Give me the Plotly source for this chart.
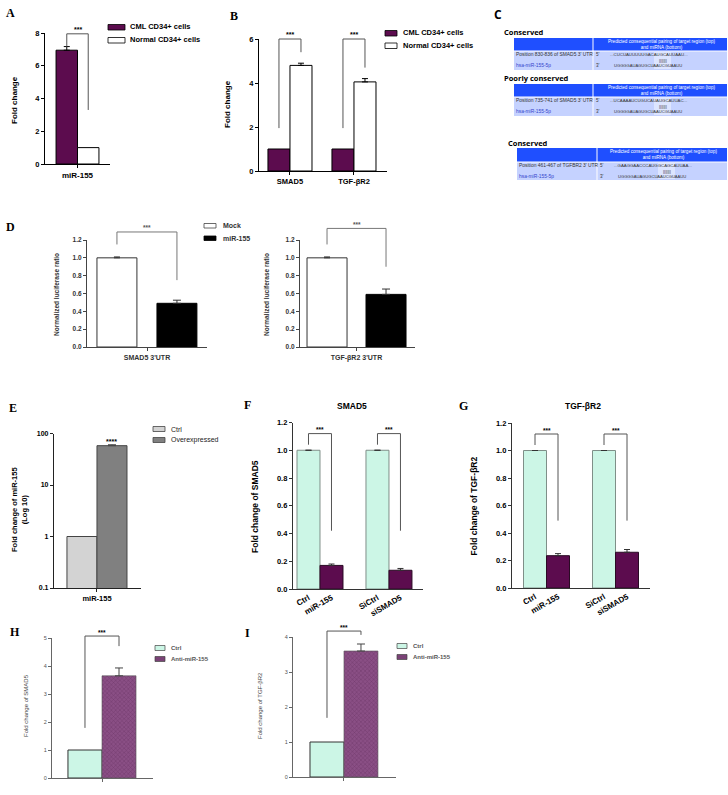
import math
import plotly.graph_objects as go

W, H = 728, 795

# ---------------- data ----------------
A_categories = ["miR-155"]
A_series = ["CML CD34+ cells", "Normal CD34+ cells"]
A_cml = [6.95]
A_cml_err = [0.22]
A_normal = [1.0]

B_categories = ["SMAD5", "TGF-βR2"]
B_cml = [1.0, 1.0]
B_normal = [4.8, 4.05]
B_normal_err = [0.1, 0.15]

D_series = ["Mock", "miR-155"]
D_categories = ["SMAD5 3'UTR", "TGF-βR2 3'UTR"]
D_mock = [1.0, 1.0]
D_mock_err = [0.01, 0.01]
D_mir = [0.49, 0.59]
D_mir_err = [0.035, 0.06]

E_series = ["Ctrl", "Overexpressed"]
E_categories = ["miR-155"]
E_ctrl = [1.0]
E_over = [58.0]
E_over_err = [2.5]
E_ticks = [0.1, 1, 10, 100]

FG_categories = ["Ctrl", "miR-155", "SiCtrl", "siSMAD5"]
F_values = [1.0, 0.17, 1.0, 0.135]
F_err = [0, 0.01, 0, 0.013]
G_values = [1.0, 0.235, 1.0, 0.26]
G_err = [0, 0.015, 0, 0.02]

HI_series = ["Ctrl", "Anti-miR-155"]
H_ctrl = [1.0]
H_anti = [3.65]
H_anti_err = [0.28]
I_ctrl = [1.0]
I_anti = [3.6]
I_anti_err = [0.2]

C_sections = ["Conserved", "Poorly conserved", "Conserved"]
C_header = "Predicted consequential pairing of target region (top)<br>and miRNA (bottom)"
C_positions = ["Position 830-836 of SMAD5 3' UTR",
               "Position 735-741 of SMAD5 3' UTR",
               "Position 461-467 of TGFBR2 3' UTR"]
C_targets = ["...CUCUAUUUUUGACAUGCAUUAAU...",
             "...UCAAAAUCUGUCAUAUGCAUUAC...",
             "...GAAGGAACCCAUGGCAGCAUUAA..."]
C_mirna = "hsa-miR-155-5p"
C_mirna_seq = "UGGGGAUAGUGCUAAUCGUAAUU"
C_pairs = "|||||||"

# ---------------- style ----------------
PURPLE = "#5c0c4e"
TEAL = "#ccf6e6"
HATCH_BG = "#8a4f85"
HATCH_FG = "#5f2a5a"
LGREY = "#d3d3d3"
DGREY = "#808080"
SANS = "Liberation Sans, Arial, sans-serif"
SERIF = "Liberation Serif, Times New Roman, serif"
OPEN = "Open Sans, Noto Sans, sans-serif"

# panel geometry in pixels: x (left,right), y (top,bottom), ranges
GEO = {
    'A': dict(x=(45, 110), y=(33, 164), xr=(-0.5, 0.5), yr=(0, 8)),
    'B': dict(x=(259, 387), y=(39, 171), xr=(-0.484, 1.516), yr=(0, 6)),
    'D1': dict(x=(87, 207), y=(240, 347), xr=(-0.5, 0.5), yr=(0, 1.2)),
    'D2': dict(x=(300, 415), y=(240, 347), xr=(-0.491, 0.509), yr=(0, 1.2)),
    'E': dict(x=(54, 141), y=(433.5, 588), xr=(-0.494, 0.506), yr=(-1, 2), log=True),
    'F': dict(x=(293, 423), y=(422.5, 589), xr=(-0.674, 4.98), yr=(0, 1.2)),
    'G': dict(x=(512, 650), y=(423, 588), xr=(-1.0, 5.0), yr=(0, 1.2)),
    'H': dict(x=(52, 153), y=(638, 778), xr=(-0.495, 0.505), yr=(0, 5)),
    'I': dict(x=(293, 396), y=(637, 777), xr=(-0.495, 0.505), yr=(0, 4)),
}
AX = {'A': 1, 'B': 2, 'D1': 3, 'D2': 4, 'E': 5, 'F': 6, 'G': 7, 'H': 8, 'I': 9}


def suf(p):
    n = AX[p]
    return '' if n == 1 else str(n)


def axn(p):
    return 'x' + suf(p), 'y' + suf(p)


def gx(p, v):
    g = GEO[p]
    a, b = g['xr']
    return g['x'][0] + (v - a) / (b - a) * (g['x'][1] - g['x'][0])


def gy(p, v):
    g = GEO[p]
    a, b = g['yr']
    if g.get('log'):
        v = math.log10(v)
    return g['y'][1] - (v - a) / (b - a) * (g['y'][1] - g['y'][0])


def err(arr, color='black', width=4, thick=1):
    return dict(type='data', array=arr, arrayminus=[0] * len(arr), symmetric=False,
                color=color, thickness=thick, width=width, visible=True)


fig = go.Figure()


def text(x, y, s, size, color='black', bold=False, family=SANS, xanchor='center',
         yanchor='middle', angle=0, align='center'):
    fig.add_annotation(x=x / W, y=1 - y / H, xref='paper', yref='paper', text=s,
                       showarrow=False, align=align,
                       font=dict(size=size, color=color, family=family,
                                 weight='bold' if bold else 'normal'),
                       xanchor=xanchor, yanchor=yanchor, textangle=angle, borderpad=0)


def rect(x0, y0, x1, y1, fill, line=None, lw=0):
    fig.add_shape(type='rect', xref='paper', yref='paper', x0=x0 / W, x1=x1 / W,
                  y0=1 - y1 / H, y1=1 - y0 / H, fillcolor=fill,
                  line=dict(color=line if line else fill, width=lw), layer='above')


def bracket(p, xa, xb, ytop, ya, yb, label, color='black', lw=1, fsize=7, lab_color='black'):
    X0, X1 = gx(p, xa) / W, gx(p, xb) / W
    Yt = 1 - gy(p, ytop) / H
    Ya = 1 - gy(p, ya) / H
    Yb = 1 - gy(p, yb) / H
    fig.add_shape(type='path', xref='paper', yref='paper',
                  path=f"M{X0},{Ya} L{X0},{Yt} L{X1},{Yt} L{X1},{Yb}",
                  line=dict(color=color, width=lw), layer='above')
    text((gx(p, xa) + gx(p, xb)) / 2, gy(p, ytop) - 4, label, fsize, color=lab_color, bold=True)


def setup_axes(p, xtype='category', xtickvals=None, xticktext=None, ytickvals=None,
               yticktext=None, tickfont=None, linecolor='black', lw=1.2,
               showxlabels=True, xtickangle=0, xtickfont=None, ytickformat=None, ticklen=3):
    s = suf(p)
    g = GEO[p]
    xd = [g['x'][0] / W, g['x'][1] / W]
    yd = [1 - g['y'][1] / H, 1 - g['y'][0] / H]
    xa = dict(domain=xd, anchor='y' + s, range=list(g['xr']), type=xtype, showgrid=False,
              zeroline=False, showline=True, linecolor=linecolor, linewidth=lw,
              ticks='outside', ticklen=ticklen, tickwidth=1, tickcolor=linecolor,
              showticklabels=showxlabels, tickfont=xtickfont or tickfont, tickangle=xtickangle,
              automargin=False, fixedrange=True)
    if xtickvals is not None:
        xa.update(tickmode='array', tickvals=xtickvals, ticktext=xticktext)
    ya = dict(domain=yd, anchor='x' + s, range=list(g['yr']),
              type='log' if g.get('log') else 'linear', showgrid=False, zeroline=False,
              showline=True, linecolor=linecolor, linewidth=lw, ticks='outside',
              ticklen=3, tickwidth=1, tickcolor=linecolor, tickfont=tickfont,
              tickmode='array', tickvals=ytickvals, ticktext=yticktext,
              automargin=False, fixedrange=True)
    if ytickformat:
        ya['tickformat'] = ytickformat
    fig.layout['xaxis' + s] = xa
    fig.layout['yaxis' + s] = ya


# ---------------- Panel A ----------------
xa, ya = axn('A')
fig.add_bar(x=A_categories, y=A_cml, width=0.33, offset=-0.33, name=A_series[0],
            marker=dict(color=PURPLE, line=dict(color='black', width=1)),
            error_y=err(A_cml_err, width=3), xaxis=xa, yaxis=ya)
fig.add_bar(x=A_categories, y=A_normal, width=0.33, offset=0, name=A_series[1],
            marker=dict(color='white', line=dict(color='black', width=1)), xaxis=xa, yaxis=ya)
fA = dict(family=SANS, size=7.5, color='black', weight='bold')
setup_axes('A', ytickvals=[0, 2, 4, 6, 8], tickfont=fA, xtickfont=dict(family=SANS, size=8, color='black', weight='bold'))
bracket('A', -0.165, 0.165, 7.95, A_cml[0] + A_cml_err[0], 3.3, '***', color='#555', fsize=7)
text(15, 100, 'Fold change', 8, bold=True, angle=-90)
rect(108, 24.5, 125, 30, PURPLE, 'black', 0.8)
rect(108, 37.5, 125, 43, 'white', 'black', 0.8)
text(129, 27, A_series[0], 7.5, bold=True, xanchor='left')
text(129, 40, A_series[1], 7.5, bold=True, xanchor='left')

# ---------------- Panel B ----------------
xa, ya = axn('B')
fig.add_bar(x=B_categories, y=B_cml, width=0.344, offset=-0.344, name=A_series[0],
            marker=dict(color=PURPLE, line=dict(color='black', width=1)), xaxis=xa, yaxis=ya)
fig.add_bar(x=B_categories, y=B_normal, width=0.344, offset=0, name=A_series[1],
            marker=dict(color='white', line=dict(color='black', width=1)),
            error_y=err(B_normal_err, width=3), xaxis=xa, yaxis=ya)
setup_axes('B', ytickvals=[0, 2, 4, 6], tickfont=fA, xtickfont=dict(family=SANS, size=7.5, color='black', weight='bold'))
bracket('B', -0.172, 0.172, 6.0, 1.95, 5.4, '***', color='#555', fsize=7)
bracket('B', 1 - 0.172, 1 + 0.172, 6.0, 1.95, 4.7, '***', color='#555', fsize=7)
text(228, 104, 'Fold change', 8, bold=True, angle=-90)
rect(385, 30.5, 397, 36, PURPLE, 'black', 0.8)
rect(385, 43, 397, 48.5, 'white', 'black', 0.8)
text(402, 33, A_series[0], 7.5, bold=True, xanchor='left')
text(402, 46, A_series[1], 7.5, bold=True, xanchor='left')

# ---------------- Panel C (TargetScan tables) ----------------
C_geo = [
    dict(label=(503, 32), x0=514, sep=593, x1=727, ht=38, hb=51, rb=70),
    dict(label=(503, 78), x0=514, sep=593, x1=727, ht=84, hb=97, rb=116),
    dict(label=(507, 143), x0=517, sep=597, x1=727, ht=148, hb=162, rb=180),
]
HEAD_BLUE = "#1f4fff"
ROW_BLUE = "#c5d2ff"
for i, g in enumerate(C_geo):
    text(g['label'][0], g['label'][1], C_sections[i], 7.5, bold=True, family=OPEN, xanchor='left')
    rect(g['x0'], g['ht'], g['sep'] - 0.5, g['hb'] - 0.5, HEAD_BLUE)
    rect(g['sep'] + 0.5, g['ht'], g['x1'], g['hb'] - 0.5, HEAD_BLUE)
    rect(g['x0'], g['hb'] + 0.5, g['sep'] - 0.5, g['rb'], ROW_BLUE)
    rect(g['sep'] + 0.5, g['hb'] + 0.5, g['x1'], g['rb'], ROW_BLUE)
    text((g['sep'] + g['x1']) / 2 + 1, (g['ht'] + g['hb']) / 2, C_header, 4.6, color='white', family=SANS)
    text(g['x0'] + 1, g['hb'] + 3.5, C_positions[i], 4.9, color='#333', xanchor='left')
    text(g['x0'] + 1, g['hb'] + 15, C_mirna, 4.9, color='#3344cc', xanchor='left')
    text(g['sep'] + 1.5, g['hb'] + 3.5, "5'", 4.5, color='#333', xanchor='left')
    text(g['sep'] + 1.5, g['hb'] + 15, "3'", 4.5, color='#333', xanchor='left')
    rect(g['sep'] + 61, g['hb'] + 1, g['sep'] + 78, g['rb'] - 1, '#dde5ff')
    text(g['sep'] + 16, g['hb'] + 3.5, C_targets[i], 4.3, color='#333', xanchor='left')
    text(g['sep'] + 70, g['hb'] + 9.5, C_pairs, 4.3, color='#333')
    text(g['sep'] + 20, g['hb'] + 15, C_mirna_seq, 4.1, color='#333', xanchor='left')

# ---------------- Panel D ----------------
fD = dict(family=SANS, size=6.5, color='#333', weight='bold')
for k, p in enumerate(['D1', 'D2']):
    xa, ya = axn(p)
    wd = 0.333 if p == 'D1' else 0.348
    off_w = -0.417 if p == 'D1' else -0.43
    fig.add_bar(x=[D_categories[k]], y=[D_mock[k]], width=wd, offset=off_w, name=D_series[0],
                marker=dict(color='white', line=dict(color='#333', width=1)),
                error_y=err([D_mock_err[k]], color='#333', width=3), xaxis=xa, yaxis=ya)
    fig.add_bar(x=[D_categories[k]], y=[D_mir[k]], width=wd, offset=0.083, name=D_series[1],
                marker=dict(color='black', line=dict(color='black', width=1)),
                error_y=err([D_mir_err[k]], color='#333', width=4), xaxis=xa, yaxis=ya)
    setup_axes(p, ytickvals=[0, 0.2, 0.4, 0.6, 0.8, 1.0, 1.2], ytickformat='.1f', tickfont=fD,
               linecolor='#444', xtickfont=dict(family=SANS, size=7, color='#333', weight='bold'))
    wc = off_w + wd / 2
    bc = 0.083 + wd / 2
    top = 1.29 if p == 'D1' else 1.33
    bracket(p, wc, bc, top, 1.15, D_mir[k] + 0.26 if p == 'D1' else 0.9, '***',
            color='#777', fsize=6.5, lab_color='#555')
    text(57 if p == 'D1' else 267, 295, 'Normalized luciferase ratio', 6.5, bold=True,
         color='#333', angle=-90)
rect(204, 223.5, 216, 228, 'white', '#444', 0.8)
rect(204, 236, 216, 240.5, 'black', 'black', 0.8)
text(222, 226, D_series[0], 7, bold=True, color='#333', xanchor='left')
text(222, 238.5, D_series[1], 7, bold=True, color='#333', xanchor='left')

# ---------------- Panel E ----------------
xa, ya = axn('E')
fig.add_bar(x=E_categories, y=E_ctrl, width=0.345, offset=-0.345, name=E_series[0],
            marker=dict(color=LGREY, line=dict(color='#444', width=1)), xaxis=xa, yaxis=ya)
fig.add_bar(x=E_categories, y=E_over, width=0.345, offset=0, name=E_series[1],
            marker=dict(color=DGREY, line=dict(color='#444', width=1)),
            error_y=err(E_over_err, color='#444', width=4), xaxis=xa, yaxis=ya)
fE = dict(family=SANS, size=7, color='black', weight='bold')
setup_axes('E', ytickvals=E_ticks, yticktext=[str(t) for t in E_ticks], tickfont=fE,
           xtickfont=dict(family=SANS, size=7.5, color='black', weight='bold'), linecolor='#222')
text(111, 441, '****', 7, bold=True)
text(19, 510, 'Fold change of miR-155<br>(Log 10)', 7.5, bold=True, angle=-90)
rect(153, 426.5, 165, 431.5, LGREY, '#444', 0.8)
rect(153, 437.5, 165, 442.5, DGREY, '#444', 0.8)
text(170, 429, E_series[0], 7, color='#222', xanchor='left')
text(170, 440, E_series[1], 7, color='#222', xanchor='left')

# ---------------- Panels F & G ----------------
pos = [i + i // 2 for i in range(len(FG_categories))]
bar_cols = [TEAL if i % 2 == 0 else PURPLE for i in range(len(FG_categories))]
line_cols = ['#7f8f88' if i % 2 == 0 else '#2a0a24' for i in range(len(FG_categories))]
fF = dict(family=SANS, size=7.5, color='black', weight='bold')
for p, vals, errs, title, ytitle, tx in [
        ('F', F_values, F_err, 'SMAD5', 'Fold change of SMAD5', 352),
        ('G', G_values, G_err, 'TGF-βR2', 'Fold change of TGF-βR2', 583)]:
    xa, ya = axn(p)
    fig.add_bar(x=pos, y=vals, width=1.0,
                marker=dict(color=bar_cols, line=dict(color=line_cols, width=1)),
                error_y=err(errs, color='#333', width=3), xaxis=xa, yaxis=ya)
    setup_axes(p, xtype='linear', xtickvals=pos, xticktext=FG_categories,
               ytickvals=[0, 0.2, 0.4, 0.6, 0.8, 1.0, 1.2], ytickformat='.1f', tickfont=fF,
               linecolor='#333', xtickangle=-30, ticklen=0,
               xtickfont=dict(family=SANS, size=8, color='black', weight='bold'))
    rend = 0.42 if p == 'F' else 0.49
    bracket(p, pos[0], pos[1], 1.12, 1.04, rend, '***', color='#555', fsize=6.5)
    bracket(p, pos[2], pos[3], 1.12, 1.04, rend, '***', color='#555', fsize=6.5)
    text(tx, 405.5, title, 8.5, bold=True)
    text(255 if p == 'F' else 473.5, 506, ytitle, 8.5, bold=True, angle=-90)

# ---------------- Panels H & I ----------------
fH = dict(family=SANS, size=5.5, color='#555')
for p, c, a, ae, ytv, ytitle, ytx, lx in [
        ('H', H_ctrl, H_anti, H_anti_err, [0, 1, 2, 3, 4, 5], 'Fold change of SMAD5', 26, 155),
        ('I', I_ctrl, I_anti, I_anti_err, [0, 1, 2, 3, 4], 'Fold change of TGF-βR2', 260, 397)]:
    xa, ya = axn(p)
    w = 0.337 if p == 'H' else 0.33
    fig.add_bar(x=['miR-155'], y=c, width=w, offset=-w, name=HI_series[0],
                marker=dict(color=TEAL, line=dict(color='#333', width=1)), xaxis=xa, yaxis=ya)
    fig.add_bar(x=['miR-155'], y=a, width=w, offset=0, name=HI_series[1],
                marker=dict(color=HATCH_BG, line=dict(color='#555', width=0.6),
                            pattern=dict(shape='x', size=3, solidity=0.35, fgcolor=HATCH_FG,
                                         bgcolor=HATCH_BG, fillmode='overlay')),
                error_y=err(ae, color='#444', width=4), xaxis=xa, yaxis=ya)
    setup_axes(p, ytickvals=ytv, tickfont=fH, linecolor='#666', lw=1, showxlabels=False)
    if p == 'H':
        bracket(p, -w / 2, w / 2, 5.07, 1.79, 4.71, '***', color='#555', fsize=6.5)
    else:
        bracket(p, -w / 2, w / 2, 4.17, 1.69, 4.06, '***', color='#555', fsize=6.5)
    text(ytx, 706, ytitle, 6, color='#444', angle=-90)
    ly = 648 if p == 'H' else 646
    rect(lx, ly - 2.5, lx + 10, ly + 2.5, TEAL, '#444', 0.7)
    rect(lx, ly + 8.5, lx + 10, ly + 13.5, '#7a4276', '#444', 0.7)
    text(lx + 15, ly, HI_series[0], 6, bold=True, color='#555', xanchor='left')
    text(lx + 15, ly + 11, HI_series[1], 6, bold=True, color='#555', xanchor='left')

# ---------------- panel letters ----------------
for s, x, y, fam in [('A', 10, 13, SERIF), ('B', 234, 16, SERIF), ('C', 498, 15, OPEN),
                     ('D', 10, 227, SERIF), ('E', 13, 408, SERIF), ('F', 247, 405, SERIF),
                     ('G', 464, 406, SERIF), ('H', 15, 632, SERIF), ('I', 247, 633, SERIF)]:
    text(x, y, s, 12, bold=True, family=fam)

fig.update_layout(width=W, height=H, margin=dict(l=0, r=0, t=0, b=0), template='none',
                  showlegend=False, plot_bgcolor='white', paper_bgcolor='white',
                  barmode='overlay')
fig.write_html("out.html", config={'displayModeBar': False},
               post_script="document.body.style.margin='0';document.body.style.overflow='hidden';")
